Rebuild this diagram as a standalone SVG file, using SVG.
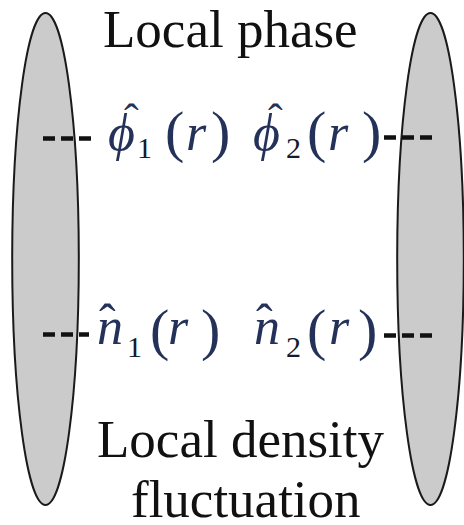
<svg xmlns="http://www.w3.org/2000/svg" width="464" height="525" viewBox="0 0 464 525">
<defs>
<ellipse id="cellShape" cx="0" cy="259" ry="246" rx="33.3" fill="#cbcbcb" stroke="#1a1a1a" stroke-width="2"/>
</defs>
<rect width="464" height="525" fill="#fff"/>
<g id="left-cell"><use href="#cellShape" x="45.5"/></g>
<g id="right-cell"><use href="#cellShape" x="430.5"/></g>
<g id="connectors" stroke="#111" stroke-width="4.5" stroke-dasharray="12 6" fill="none">
<line x1="43" y1="138.5" x2="91" y2="138.5"/>
<line x1="43" y1="334.5" x2="89" y2="334.5"/>
<line x1="384" y1="137.5" x2="432" y2="137.5"/>
<line x1="384" y1="335.5" x2="432" y2="335.5"/>
</g>
<g id="title-phase"><text x="103" y="47" font-family="Liberation Serif" style="font-family:'Liberation Serif',serif !important" font-size="53" fill="#111">Local phase</text></g>
<g id="phi1"><text font-family="Liberation Serif" style="font-family:'Liberation Serif',serif !important" fill="#24325a"><tspan font-style="italic" font-size="52" x="108" y="150">ϕ</tspan><tspan font-size="44" x="124" y="134">ˆ</tspan><tspan font-size="30" fill="#151b2b" x="137" y="158">1</tspan><tspan font-size="58" x="165" y="151">(</tspan><tspan font-style="italic" font-size="52" x="186" y="150">r</tspan><tspan font-size="58" x="211" y="151">)</tspan></text></g>
<g id="phi2"><text font-family="Liberation Serif" style="font-family:'Liberation Serif',serif !important" fill="#24325a"><tspan font-style="italic" font-size="52" x="253" y="150">ϕ</tspan><tspan font-size="44" x="268" y="134">ˆ</tspan><tspan font-size="30" fill="#151b2b" x="286" y="158">2</tspan><tspan font-size="58" x="307" y="151">(</tspan><tspan font-style="italic" font-size="52" x="328" y="150">r</tspan><tspan font-size="58" x="362" y="151">)</tspan></text></g>
<g id="n1"><text font-family="Liberation Serif" style="font-family:'Liberation Serif',serif !important" fill="#24325a"><tspan font-style="italic" font-size="52" x="97" y="344">n</tspan><tspan font-size="50" x="99" y="339">ˆ</tspan><tspan font-size="30" fill="#151b2b" x="127" y="357">1</tspan><tspan font-size="58" x="150" y="349">(</tspan><tspan font-style="italic" font-size="52" x="168" y="344">r</tspan><tspan font-size="58" x="201" y="349">)</tspan></text></g>
<g id="n2"><text font-family="Liberation Serif" style="font-family:'Liberation Serif',serif !important" fill="#24325a"><tspan font-style="italic" font-size="52" x="254" y="344">n</tspan><tspan font-size="50" x="256" y="339">ˆ</tspan><tspan font-size="30" fill="#151b2b" x="286" y="357">2</tspan><tspan font-size="58" x="307" y="349">(</tspan><tspan font-style="italic" font-size="52" x="329" y="344">r</tspan><tspan font-size="58" x="358" y="349">)</tspan></text></g>
<g id="title-density">
<text x="97" y="457" font-family="Liberation Serif" style="font-family:'Liberation Serif',serif !important" font-size="53" fill="#111">Local density</text>
<text x="131" y="517" font-family="Liberation Serif" style="font-family:'Liberation Serif',serif !important" font-size="53" fill="#111">fluctuation</text>
</g>
</svg>
